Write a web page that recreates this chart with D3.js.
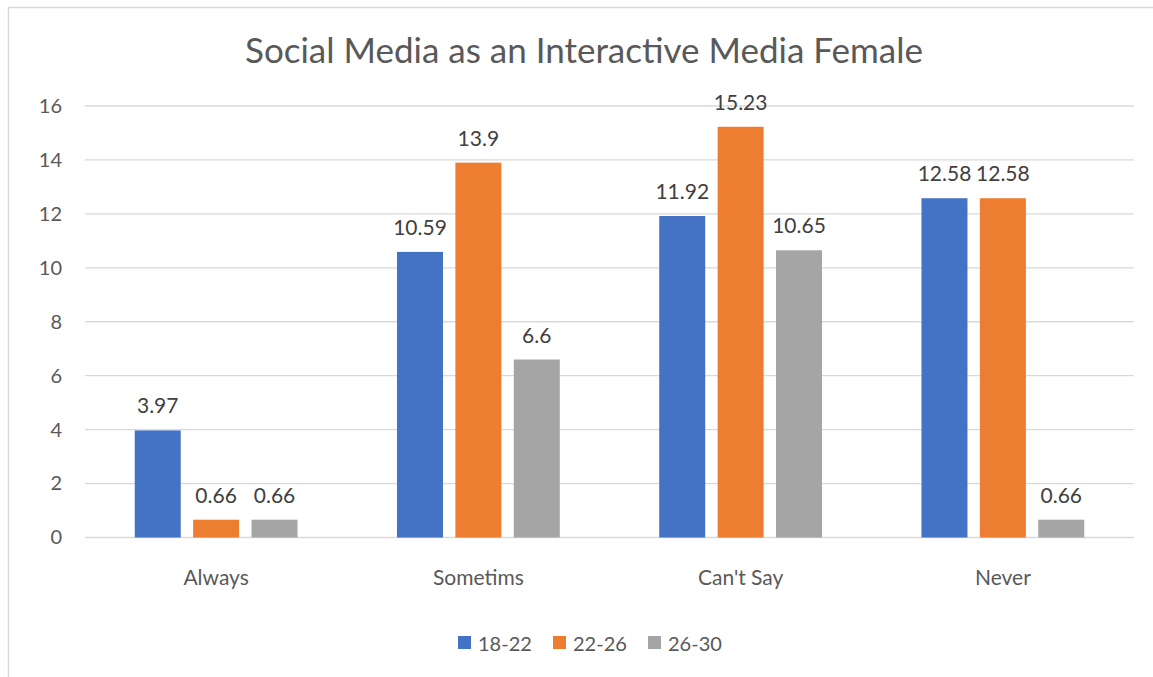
<!DOCTYPE html>
<html>
<head>
<meta charset="utf-8">
<script src="https://cdn.jsdelivr.net/npm/d3@7"></script>
<style>
  html, body { margin: 0; padding: 0; background: #fff; }
  svg { display: block; font-family: Lato, "Open Sans", sans-serif; }
</style>
</head>
<body>
<svg id="chart" width="1153" height="677"></svg>
<script>
const title = "Social Media as an Interactive Media Female";
const categories = ["Always", "Sometims", "Can't Say", "Never"];
const seriesNames = ["18-22", "22-26", "26-30"];
const series1822 = [3.97, 10.59, 11.92, 12.58];
const series2226 = [0.66, 13.9, 15.23, 12.58];
const series2630 = [0.66, 6.6, 10.65, 0.66];
const yTicks = [0, 2, 4, 6, 8, 10, 12, 14, 16];
const colors = ["#4472C4", "#ED7D31", "#A5A5A5"];

const seriesValues = [series1822, series2226, series2630];
const data = categories.map((c, i) => ({
  category: c,
  values: seriesNames.map((s, j) => ({ series: s, value: seriesValues[j][i], color: colors[j] }))
}));

const svg = d3.select("#chart");

// outer chart border (cropped at right & bottom)
svg.append("rect")
  .attr("x", 8.5).attr("y", 7.5)
  .attr("width", 1170).attr("height", 700)
  .attr("fill", "#fff").attr("stroke", "#d9d9d9").attr("stroke-width", 1.5);

const plot = { left: 85, right: 1134, top: 106, bottom: 537.5 };

const x0 = d3.scaleBand().domain(categories).range([plot.left, plot.right]).paddingInner(0).paddingOuter(0);
const y = d3.scaleLinear().domain([0, 16]).range([plot.bottom, plot.top]);

// bar layout within band: bar width ~46, gap ~12
const barW = 46, barGap = 12.4;
const x1 = d3.scaleBand().domain(seriesNames)
  .range([0, 3 * barW + 2 * barGap]).paddingInner(barGap / (barW + barGap)).paddingOuter(0);
const groupW = 3 * barW + 2 * barGap;

// gridlines
svg.append("g")
  .selectAll("line").data(yTicks).join("line")
  .attr("x1", plot.left).attr("x2", plot.right)
  .attr("y1", d => y(d)).attr("y2", d => y(d))
  .attr("stroke", "#d9d9d9").attr("stroke-width", 1.3);

// y axis labels
const yAxis = d3.axisLeft(y).tickValues(yTicks).tickSize(0).tickPadding(0);
const gy = svg.append("g").attr("transform", `translate(62,0)`).call(yAxis);
gy.select(".domain").remove();
gy.selectAll("text").attr("font-size", 20).attr("fill", "#595959").attr("font-family", "Lato, sans-serif");

// x axis labels
const xAxis = d3.axisBottom(x0).tickSize(0).tickPadding(0);
const gx = svg.append("g").attr("transform", `translate(0,${plot.bottom})`).call(xAxis);
gx.select(".domain").remove();
gx.selectAll("text").attr("font-size", 21).attr("fill", "#595959")
  .attr("font-family", "Lato, sans-serif").attr("dy", null).attr("y", 47);

// bars
const groups = svg.append("g").selectAll("g").data(data).join("g")
  .attr("transform", d => `translate(${x0(d.category) + (x0.bandwidth() - groupW) / 2},0)`);

groups.selectAll("rect").data(d => d.values).join("rect")
  .attr("x", d => x1(d.series))
  .attr("y", d => y(d.value))
  .attr("width", x1.bandwidth())
  .attr("height", d => y(0) - y(d.value))
  .attr("fill", d => d.color);

groups.selectAll("text").data(d => d.values).join("text")
  .attr("x", d => x1(d.series) + x1.bandwidth() / 2)
  .attr("y", d => y(d.value) - 17)
  .attr("text-anchor", "middle")
  .attr("font-size", 21)
  .attr("fill", "#404040")
  .text(d => d.value);

// title
svg.append("text")
  .attr("x", 584).attr("y", 63)
  .attr("text-anchor", "middle")
  .attr("font-size", 35)
  .attr("fill", "#595959")
  .text(title);

// legend
const legendX = [458, 553, 648];
const legend = svg.append("g").selectAll("g").data(seriesNames).join("g")
  .attr("transform", (d, i) => `translate(${legendX[i]},636)`);
legend.append("rect").attr("width", 13).attr("height", 13).attr("fill", (d, i) => colors[i]);
legend.append("text").attr("x", 20).attr("y", 15)
  .attr("font-size", 20).attr("fill", "#595959").text(d => d);
</script>
</body>
</html>
